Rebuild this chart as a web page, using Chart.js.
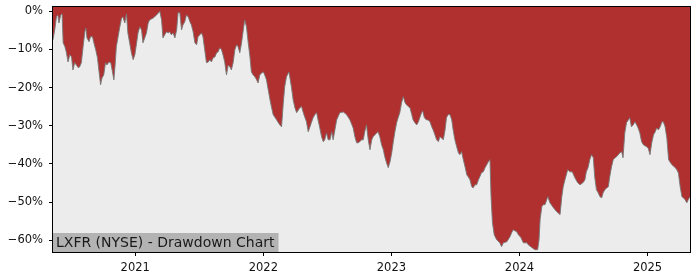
<!DOCTYPE html>
<html>
<head>
<meta charset="utf-8">
<script src="https://cdn.jsdelivr.net/npm/chart.js@4"></script>
<style>
  html, body { margin: 0; padding: 0; background: #fff; }
  canvas { display: block; }
</style>
</head>
<body>
<canvas id="ddChart" width="700" height="280"></canvas>
<script>
// drawdown series
const dates = [
  '2020-05-11','2020-05-16','2020-05-21','2020-05-25','2020-05-28','2020-06-02','2020-06-06','2020-06-09',
  '2020-06-14','2020-06-18','2020-06-23','2020-06-28','2020-07-03','2020-07-07','2020-07-12','2020-07-17',
  '2020-07-22','2020-07-26','2020-07-31','2020-08-05','2020-08-10','2020-08-13','2020-08-16','2020-08-22',
  '2020-08-26','2020-09-01','2020-09-04','2020-09-10','2020-09-15','2020-09-20','2020-09-24','2020-09-28',
  '2020-10-03','2020-10-08','2020-10-12','2020-10-18','2020-10-23','2020-10-28','2020-11-01','2020-11-05',
  '2020-11-08','2020-11-13','2020-11-18','2020-11-23','2020-11-27','2020-12-02','2020-12-07','2020-12-11',
  '2020-12-16','2020-12-21','2020-12-26','2020-12-31',
  '2021-01-05','2021-01-09','2021-01-14','2021-01-19','2021-01-23','2021-01-28','2021-02-02','2021-02-07',
  '2021-02-11','2021-02-21','2021-03-03','2021-03-10','2021-03-12','2021-03-17','2021-03-21','2021-03-26',
  '2021-03-31','2021-04-05','2021-04-09','2021-04-14','2021-04-19','2021-04-24','2021-04-29','2021-05-03',
  '2021-05-08','2021-05-13','2021-05-17','2021-05-22','2021-05-27','2021-06-01','2021-06-06','2021-06-10',
  '2021-06-15','2021-06-20','2021-06-25','2021-06-29','2021-07-04','2021-07-09','2021-07-13','2021-07-18',
  '2021-07-23','2021-07-28','2021-08-02','2021-08-06','2021-08-11','2021-08-16','2021-08-21','2021-08-25',
  '2021-08-30','2021-09-04','2021-09-08','2021-09-13','2021-09-18','2021-09-23','2021-09-28','2021-10-02',
  '2021-10-07','2021-10-12','2021-10-17','2021-10-21','2021-10-26','2021-10-31','2021-11-05','2021-11-09',
  '2021-11-14','2021-11-19','2021-11-24','2021-11-28','2021-12-03','2021-12-08','2021-12-13','2021-12-17',
  '2021-12-22','2021-12-27',
  '2022-01-01','2022-01-05','2022-01-10','2022-01-15','2022-01-20','2022-01-24','2022-01-29','2022-02-08',
  '2022-02-17','2022-02-22','2022-02-27','2022-03-03','2022-03-08','2022-03-15','2022-03-22','2022-03-27',
  '2022-04-01','2022-04-06','2022-04-15','2022-04-20','2022-04-25','2022-04-29','2022-05-04','2022-05-09',
  '2022-05-14','2022-05-18','2022-05-23','2022-05-28','2022-06-02','2022-06-06','2022-06-11','2022-06-16',
  '2022-06-21','2022-06-25','2022-06-30','2022-07-05','2022-07-10','2022-07-15','2022-07-19','2022-07-24',
  '2022-07-29','2022-08-07','2022-08-17','2022-08-26','2022-09-05','2022-09-14','2022-09-19','2022-09-24',
  '2022-09-28','2022-10-03','2022-10-08','2022-10-13','2022-10-17','2022-10-22','2022-10-27','2022-11-01',
  '2022-11-06','2022-11-10','2022-11-20','2022-11-24','2022-11-29','2022-12-04','2022-12-09','2022-12-13',
  '2022-12-18','2022-12-23','2022-12-28',
  '2023-01-02','2023-01-06','2023-01-11','2023-01-16','2023-01-21','2023-01-25','2023-01-30','2023-02-04',
  '2023-02-09','2023-02-13','2023-02-18','2023-02-23','2023-02-28','2023-03-04','2023-03-09','2023-03-14',
  '2023-03-19','2023-03-23','2023-03-28','2023-03-31','2023-04-05','2023-04-11','2023-04-16','2023-04-21',
  '2023-04-26','2023-04-30','2023-05-05','2023-05-10','2023-05-15','2023-05-19','2023-05-24','2023-05-29',
  '2023-06-03','2023-06-07','2023-06-12','2023-06-17','2023-06-22','2023-06-26','2023-07-01','2023-07-06',
  '2023-07-11','2023-07-15','2023-07-20','2023-07-25','2023-07-30','2023-08-04','2023-08-08','2023-08-13',
  '2023-08-18','2023-08-22','2023-08-27','2023-09-01','2023-09-06','2023-09-10','2023-09-15','2023-09-20',
  '2023-09-25','2023-09-30','2023-10-04','2023-10-09','2023-10-12','2023-10-16','2023-10-21','2023-10-28',
  '2023-11-06','2023-11-11','2023-11-16','2023-11-26','2023-12-05','2023-12-10','2023-12-14','2023-12-24',
  '2023-12-29',
  '2024-01-05','2024-01-12','2024-01-22','2024-01-26','2024-02-05','2024-02-14','2024-02-22','2024-02-26',
  '2024-02-29','2024-03-05','2024-03-09','2024-03-14','2024-03-19','2024-03-22','2024-03-28','2024-04-07',
  '2024-04-16','2024-04-26','2024-05-01','2024-05-05','2024-05-10','2024-05-18','2024-05-24','2024-05-31',
  '2024-06-07','2024-06-15','2024-06-22','2024-07-01','2024-07-06','2024-07-10','2024-07-15','2024-07-20',
  '2024-07-25','2024-07-30','2024-08-03','2024-08-08','2024-08-13','2024-08-18','2024-08-23','2024-08-27',
  '2024-09-01','2024-09-06','2024-09-11','2024-09-15','2024-09-20','2024-09-25','2024-09-30','2024-10-05',
  '2024-10-14','2024-10-19','2024-10-23','2024-10-28','2024-11-02','2024-11-07','2024-11-11','2024-11-16',
  '2024-11-21','2024-11-26','2024-12-01','2024-12-05','2024-12-10','2024-12-15','2024-12-20','2024-12-29',
  '2025-01-03','2025-01-08','2025-01-13','2025-01-18','2025-01-23','2025-01-27','2025-02-01','2025-02-06',
  '2025-02-11','2025-02-15','2025-02-20','2025-02-25','2025-03-02','2025-03-06','2025-03-11','2025-03-21',
  '2025-03-25','2025-03-30','2025-04-04','2025-04-09','2025-04-13','2025-04-18','2025-04-23','2025-04-27',
  '2025-05-02'
];

const drawdown = [
  -7.5,-4.9,-1.4,-1.0,-3.1,-1.0,-0.7,-8.3,
  -9.3,-10.7,-13.3,-11.4,-12.0,-15.4,-13.5,-14.1,
  -14.8,-14.6,-13.5,-9.3,-5.4,-4.4,-7.0,-8.0,
  -6.7,-6.7,-8.0,-10.1,-12.2,-16.2,-19.3,-17.5,
  -16.7,-13.5,-14.1,-13.3,-13.5,-15.9,-18.0,-13.5,
  -9.3,-6.7,-4.1,-1.8,-1.5,-3.1,-0.7,-5.7,
  -8.3,-10.9,-12.7,-11.4,
  -8.3,-5.7,-4.1,-4.9,-8.3,-7.0,-5.7,-3.1,
  -2.3,-1.8,-1.0,-0.2,0,-2.3,-7.0,-6.2,
  -5.4,-5.7,-5.4,-6.2,-5.7,-7.0,-4.9,-0.4,
  -0.4,-4.9,-3.6,-2.8,-1.0,-1.5,-2.8,-3.6,
  -5.4,-8.3,-8.8,-6.7,-6.2,-5.7,-6.7,-10.1,
  -13.5,-13.3,-12.7,-13.3,-12.2,-12.0,-10.9,-10.7,
  -9.6,-10.1,-11.4,-13.3,-16.7,-14.1,-14.6,-15.4,
  -13.5,-10.1,-8.8,-9.3,-10.9,-8.3,-4.9,-2.3,
  -4.1,-8.3,-12.0,-15.9,-16.7,-17.2,-18.0,-18.8,
  -16.7,-16.2,
  -15.9,-16.7,-18.0,-20.6,-23.2,-25.0,-27.1,-28.5,
  -29.8,-30.3,-24.0,-19.8,-17.2,-15.9,-19.8,-23.2,
  -25.3,-26.6,-25.3,-25.0,-26.6,-27.7,-29.0,-31.6,
  -30.3,-29.2,-27.9,-27.1,-26.6,-28.5,-30.6,-32.9,
  -34.2,-33.7,-31.9,-33.7,-33.7,-31.6,-33.7,-31.1,
  -28.5,-26.6,-26.4,-27.1,-28.5,-30.6,-32.9,-34.5,
  -34.5,-34.2,-33.7,-33.7,-31.6,-29.8,-33.7,-36.3,
  -33.7,-32.9,-31.9,-31.6,-32.9,-35.0,-36.3,-38.1,
  -39.7,-41.0,-39.5,
  -37.1,-34.5,-31.6,-29.2,-27.7,-26.6,-24.0,-22.4,
  -24.0,-24.5,-25.0,-25.3,-27.1,-28.5,-29.2,-29.8,
  -29.0,-27.9,-26.6,-26.1,-27.9,-28.5,-28.5,-29.0,
  -30.3,-31.1,-32.4,-33.7,-34.2,-32.9,-33.2,-33.7,
  -31.1,-27.9,-27.1,-27.1,-28.5,-31.1,-33.7,-35.5,
  -37.1,-37.6,-36.8,-38.9,-40.8,-42.9,-43.4,-44.2,
  -46.0,-46.3,-45.5,-45.5,-44.2,-43.4,-42.3,-42.1,
  -41.0,-40.2,-39.5,-38.9,-48.6,-55.4,-58.6,-59.9,
  -60.7,-61.7,-60.7,-60.4,-59.1,-58.0,-57.3,-57.8,
  -58.6,
  -59.3,-60.7,-60.7,-61.2,-61.9,-62.5,-62.5,-59.9,
  -54.6,-51.2,-50.7,-50.7,-49.4,-48.6,-50.2,-51.5,
  -52.5,-53.3,-48.6,-46.0,-44.2,-41.5,-42.1,-42.1,
  -43.6,-44.9,-45.5,-44.9,-44.2,-42.1,-41.0,-38.9,
  -37.6,-38.4,-43.4,-46.8,-47.6,-48.6,-48.9,-47.6,
  -46.8,-46.3,-46.0,-43.4,-40.8,-38.9,-38.4,-38.1,
  -37.1,-36.8,-38.4,-31.9,-29.2,-28.5,-27.9,-30.3,
  -29.8,-29.0,-29.8,-30.6,-31.9,-34.2,-35.0,-35.5,
  -35.9,-37.6,-34.5,-32.4,-31.6,-30.6,-31.1,-30.3,
  -29.0,-29.0,-30.3,-33.2,-38.9,-39.5,-40.2,-41.0,
  -41.5,-42.4,-46.0,-48.6,-48.9,-49.4,-50.2,-49.4,
  -48.6
];

const yearTicks = [2021, 2022, 2023, 2024, 2025];
const pctTicks = [0, -10, -20, -30, -40, -50, -60];
const chartTitle = 'LXFR (NYSE) - Drawdown Chart';

// date string -> fractional year, so a plain linear axis can be used
function toYear(s) {
  const [y, m, d] = s.split('-').map(Number);
  const start = Date.UTC(y, 0, 1);
  const end = Date.UTC(y + 1, 0, 1);
  return y + (Date.UTC(y, m - 1, d) - start) / (end - start);
}

const points = dates.map((d, i) => ({ x: toYear(d), y: drawdown[i] }));

const frame = {
  id: 'frame',
  beforeDraw(chart) {
    const { ctx, chartArea: a } = chart;
    ctx.save();
    ctx.fillStyle = '#ececec';
    ctx.fillRect(a.left, a.top, a.right - a.left, a.bottom - a.top);
    ctx.restore();
  },
  afterDatasetsDraw(chart) {
    const { ctx, chartArea: a } = chart;
    ctx.save();
    ctx.font = '14px "DejaVu Sans"';
    const w = ctx.measureText(chartTitle).width;
    ctx.fillStyle = '#b3b3b3';
    ctx.fillRect(a.left, a.bottom - 19, w + 7, 19);
    ctx.fillStyle = '#1a1a1a';
    ctx.textBaseline = 'alphabetic';
    ctx.fillText(chartTitle, a.left + 3, a.bottom - 5);
    ctx.strokeStyle = '#000';
    ctx.lineWidth = 1;
    ctx.strokeRect(Math.round(a.left) - 0.5, Math.round(a.top) - 0.5,
      Math.round(a.right - a.left) + 1, Math.round(a.bottom - a.top) + 1);
    ctx.restore();
  }
};

const tickFont = { family: 'DejaVu Sans', size: 11.5 };

new Chart(document.getElementById('ddChart'), {
  type: 'line',
  data: {
    datasets: [{
      data: points,
      borderColor: 'rgba(120,120,120,0.9)',
      borderWidth: 1,
      backgroundColor: '#b03030',
      fill: 'end',
      pointRadius: 0,
      tension: 0
    }]
  },
  options: {
    responsive: false,
    animation: false,
    layout: { padding: { left: 0, top: 7, right: 10, bottom: 0 } },
    plugins: { legend: { display: false }, tooltip: { enabled: false } },
    scales: {
      x: {
        type: 'linear',
        min: points[0].x,
        max: points[points.length - 1].x,
        afterBuildTicks: s => { s.ticks = yearTicks.map(v => ({ value: v })); },
        afterFit: s => { s.height = 28; s.paddingLeft = 0; s.paddingRight = 0; },
        grid: { drawOnChartArea: false, tickLength: 4, color: '#000' },
        border: { display: false },
        ticks: { font: tickFont, color: '#111', padding: 5, maxRotation: 0,
          callback: v => String(v) }
      },
      y: {
        min: -63.1,
        max: 1.1,
        afterBuildTicks: s => { s.ticks = pctTicks.map(v => ({ value: v })); },
        afterFit: s => { s.width = 53; s.paddingTop = 0; s.paddingBottom = 0; },
        grid: { drawOnChartArea: false, tickLength: 4, color: '#000' },
        border: { display: false },
        ticks: { font: tickFont, color: '#111', padding: 6,
          callback: v => (v < 0 ? '\u2212' + Math.abs(v) : v) + '%' }
      }
    }
  },
  plugins: [frame]
});
</script>
</body>
</html>
